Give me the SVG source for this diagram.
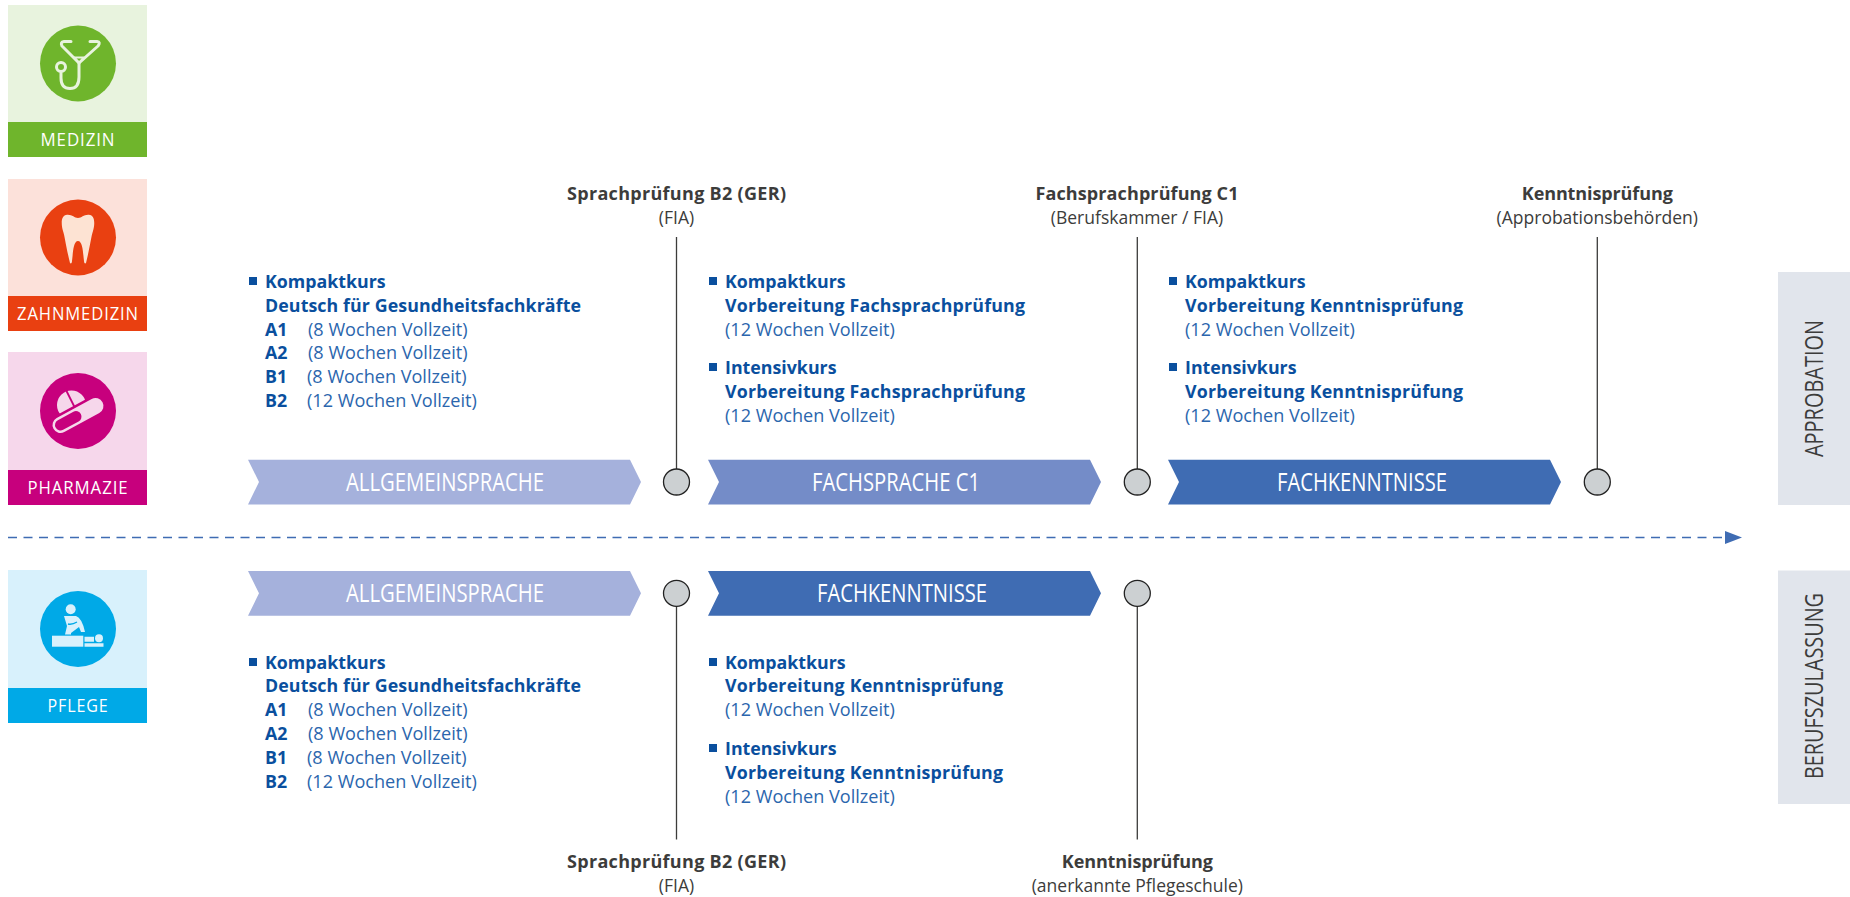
<svg xmlns="http://www.w3.org/2000/svg" width="1850" height="897" viewBox="0 0 1850 897">
<style>
text{font-family:"Open Sans","Noto Sans",sans-serif}
.t{font-size:18.6px;fill:#fff;text-anchor:middle;letter-spacing:1px}
.h{font-size:17.8px;font-weight:700;fill:#0a4f9e}
.b{font-size:18.1px;fill:#2b66ad}
.g{font-size:17.5px;fill:#3c3c3b;text-anchor:middle}
.gb{font-size:18px;font-weight:700;fill:#3c3c3b;text-anchor:middle}
.c{font-size:24.8px;fill:#fff;text-anchor:middle}
.s{font-size:25px;fill:#3c3c3b;text-anchor:middle}
.ln{stroke:#3c3c3b;stroke-width:1.3;fill:none}
.dot{fill:#ccd0d2;stroke:#222;stroke-width:1.3}
.sq{fill:#0a4f9e}
</style>
<defs>
<marker id="ah" markerUnits="userSpaceOnUse" markerWidth="18" markerHeight="14" refX="0" refY="6.5" orient="auto"><path d="M0 0L17 6.5L0 13z" fill="#3f6cb3"/></marker>
<path id="chev" d="M0 0H382L393 22.300L382 44.700H0L11 22.300z"/>
</defs>

<g id="connectors">
<path class="ln" d="M676.500 237V470M1137.300 237V470M1597.300 237V470M676.500 605V839.500M1137.300 605V839.500"/>
<path d="M8 537.500H1725" fill="none" stroke="#3f6cb3" stroke-width="1.4" stroke-dasharray="9 6.500" marker-end="url(#ah)"/>
</g>

<g id="medizin">
<rect x="8" y="5" width="139" height="117" fill="#e8f3de"/><rect x="8" y="122" width="139" height="35" fill="#6fb52c"/>
<circle cx="78" cy="63.500" r="38" fill="#6fb52c"/>
<g fill="none" stroke="#e8f3de" stroke-width="3" stroke-linecap="round" stroke-linejoin="round">
<path d="M71 41.500H64Q60 42 62 46L79 63L98 46Q101 42 97 41.500H90"/>
<path d="M74 57.500H84L79 63Z" stroke-width="2"/>
<path d="M79 63V77Q79 88.500 70 88.500Q61 88.500 61 78V73"/>
<circle cx="61" cy="67" r="4.500"/>
</g>
<text class="t" x="78" y="146" textLength="75" lengthAdjust="spacingAndGlyphs">MEDIZIN</text>
</g>

<g id="zahnmedizin">
<rect x="8" y="179" width="139" height="117" fill="#fce1da"/><rect x="8" y="296" width="139" height="35" fill="#e94011"/>
<circle cx="78" cy="237.500" r="38" fill="#e94011"/>
<path d="M66 215C72 214 74 218 78 218C82 218 84 214 90 215C95 216 95 224 93 231C91 237 90 247 86 263C85 264 84 263 84 261C83 254 83 241 78 241C73 241 73 254 72 261C72 263 71 264 70 263C66 247 65 237 63 231C61 224 61 216 66 215Z" fill="#fde3d3"/>
<text class="t" x="78" y="320" textLength="122" lengthAdjust="spacingAndGlyphs">ZAHNMEDIZIN</text>
</g>

<g id="pharmazie">
<rect x="8" y="352" width="139" height="118" fill="#f6d7eb"/><rect x="8" y="470" width="139" height="35" fill="#c7007d"/>
<circle cx="78" cy="411" r="38" fill="#c7007d"/>
<circle cx="71.500" cy="405" r="14.500" fill="#f6d7eb"/>
<path d="M65.500 389L75 408" stroke="#c7007d" stroke-width="1.800" fill="none"/>
<path d="M60.500 425L95.500 406" stroke="#c7007d" stroke-width="21" stroke-linecap="round" fill="none"/>
<path d="M60.500 425L95.500 406" stroke="#f6d7eb" stroke-width="16" stroke-linecap="round" fill="none"/>
<path d="M60.500 425L76 416.600" stroke="#c7007d" stroke-width="11" stroke-linecap="round" fill="none"/>
<text class="t" x="78" y="494" textLength="101" lengthAdjust="spacingAndGlyphs">PHARMAZIE</text>
</g>

<g id="pflege">
<rect x="8" y="570" width="139" height="118" fill="#d8f1fc"/><rect x="8" y="688" width="139" height="35" fill="#00a9e7"/>
<circle cx="78" cy="629" r="38" fill="#00a9e7"/>
<g fill="#d8f1fc">
<circle cx="70.700" cy="609.300" r="5"/>
<path d="M64 616H76Q82 618 85 632H81L79 627L71 633V634.500H65L67 626Z"/>
<rect x="52" y="635.700" width="31.300" height="11"/>
<circle cx="99" cy="638.300" r="4"/>
<path d="M84.500 636.700H94V641.700H84.500ZM84.500 643.300H103.500V646.700H84.500Z"/>
</g>
<path d="M68 624Q72 625 77 622" fill="none" stroke="#00a9e7" stroke-width="1.300"/>
<text class="t" x="78" y="711.700" textLength="61" lengthAdjust="spacingAndGlyphs">PFLEGE</text>
</g>

<g id="chevrons">
<g id="allgemein-1"><use href="#chev" x="248" y="459.700" fill="#a5b1dc"/><text class="c" x="445" y="491" textLength="198" lengthAdjust="spacingAndGlyphs">ALLGEMEINSPRACHE</text></g>
<g id="fachsprache"><use href="#chev" x="708" y="459.700" fill="#748cc8"/><text class="c" x="896" y="491" textLength="168" lengthAdjust="spacingAndGlyphs">FACHSPRACHE C1</text></g>
<g id="fachkenntnisse-1"><use href="#chev" x="1168" y="459.700" fill="#3f6cb3"/><text class="c" x="1362" y="491" textLength="170" lengthAdjust="spacingAndGlyphs">FACHKENNTNISSE</text></g>
<g id="allgemein-2"><use href="#chev" x="248" y="571" fill="#a5b1dc"/><text class="c" x="445" y="602" textLength="198" lengthAdjust="spacingAndGlyphs">ALLGEMEINSPRACHE</text></g>
<g id="fachkenntnisse-2"><use href="#chev" x="708" y="571" fill="#3f6cb3"/><text class="c" x="902" y="602" textLength="170" lengthAdjust="spacingAndGlyphs">FACHKENNTNISSE</text></g>
</g>

<g id="milestones">
<circle class="dot" cx="676.500" cy="482" r="13"/><circle class="dot" cx="1137.300" cy="482" r="13"/><circle class="dot" cx="1597.300" cy="482" r="13"/>
<circle class="dot" cx="676.500" cy="593.300" r="13"/><circle class="dot" cx="1137.300" cy="593.300" r="13"/>
</g>

<g id="pruefungen">
<text class="gb" x="676.500" y="200" textLength="219">Sprachprüfung B2 (GER)</text><text class="g" x="676.500" y="224">(FIA)</text>
<text class="gb" x="1137" y="200" textLength="203">Fachsprachprüfung C1</text><text class="g" x="1137" y="224">(Berufskammer / FIA)</text>
<text class="gb" x="1597.300" y="200" textLength="151">Kenntnisprüfung</text><text class="g" x="1597.300" y="224">(Approbationsbehörden)</text>
<text class="gb" x="676.500" y="868" textLength="219">Sprachprüfung B2 (GER)</text><text class="g" x="676.500" y="891.700">(FIA)</text>
<text class="gb" x="1137.300" y="868" textLength="151">Kenntnisprüfung</text><text class="g" x="1137.300" y="891.700">(anerkannte Pflegeschule)</text>
</g>

<g id="kurse-a1">
<rect class="sq" x="249" y="277" width="8" height="8"/>
<text class="h" x="265" y="288">Kompaktkurs</text><text class="h" x="265" y="312" textLength="316">Deutsch für Gesundheitsfachkräfte</text>
<text class="h" x="265" y="336">A1</text><text class="b" x="308" y="336">(8 Wochen Vollzeit)</text>
<text class="h" x="265" y="359">A2</text><text class="b" x="308" y="359">(8 Wochen Vollzeit)</text>
<text class="h" x="265" y="383">B1</text><text class="b" x="307" y="383">(8 Wochen Vollzeit)</text>
<text class="h" x="265" y="407">B2</text><text class="b" x="307" y="407">(12 Wochen Vollzeit)</text>
</g>
<g id="kurse-fach">
<rect class="sq" x="709" y="277" width="8" height="8"/>
<text class="h" x="725" y="288">Kompaktkurs</text><text class="h" x="725" y="312" textLength="300">Vorbereitung Fachsprachprüfung</text><text class="b" x="725" y="336">(12 Wochen Vollzeit)</text>
<rect class="sq" x="709" y="363" width="8" height="8"/>
<text class="h" x="725" y="374">Intensivkurs</text><text class="h" x="725" y="398" textLength="300">Vorbereitung Fachsprachprüfung</text><text class="b" x="725" y="422">(12 Wochen Vollzeit)</text>
</g>
<g id="kurse-kenntnis">
<rect class="sq" x="1169" y="277" width="8" height="8"/>
<text class="h" x="1185" y="288">Kompaktkurs</text><text class="h" x="1185" y="312" textLength="278">Vorbereitung Kenntnisprüfung</text><text class="b" x="1185" y="336">(12 Wochen Vollzeit)</text>
<rect class="sq" x="1169" y="363" width="8" height="8"/>
<text class="h" x="1185" y="374">Intensivkurs</text><text class="h" x="1185" y="398" textLength="278">Vorbereitung Kenntnisprüfung</text><text class="b" x="1185" y="422">(12 Wochen Vollzeit)</text>
</g>
<g id="kurse-a1-pflege">
<rect class="sq" x="249" y="658" width="8" height="8"/>
<text class="h" x="265" y="669">Kompaktkurs</text><text class="h" x="265" y="692" textLength="316">Deutsch für Gesundheitsfachkräfte</text>
<text class="h" x="265" y="716">A1</text><text class="b" x="308" y="716">(8 Wochen Vollzeit)</text>
<text class="h" x="265" y="740">A2</text><text class="b" x="308" y="740">(8 Wochen Vollzeit)</text>
<text class="h" x="265" y="764">B1</text><text class="b" x="307" y="764">(8 Wochen Vollzeit)</text>
<text class="h" x="265" y="788">B2</text><text class="b" x="307" y="788">(12 Wochen Vollzeit)</text>
</g>
<g id="kurse-pflege">
<rect class="sq" x="709" y="658" width="8" height="8"/>
<text class="h" x="725" y="669">Kompaktkurs</text><text class="h" x="725" y="692" textLength="278">Vorbereitung Kenntnisprüfung</text><text class="b" x="725" y="716">(12 Wochen Vollzeit)</text>
<rect class="sq" x="709" y="744" width="8" height="8"/>
<text class="h" x="725" y="755">Intensivkurs</text><text class="h" x="725" y="779" textLength="278">Vorbereitung Kenntnisprüfung</text><text class="b" x="725" y="803">(12 Wochen Vollzeit)</text>
</g>

<g id="approbation">
<rect x="1778" y="272" width="72" height="233" fill="#e1e5ec"/>
<text class="s" transform="translate(1823 388.500) rotate(-90)" textLength="137" lengthAdjust="spacingAndGlyphs">APPROBATION</text>
</g>
<g id="berufszulassung">
<rect x="1778" y="570.500" width="72" height="233.500" fill="#e1e5ec"/>
<text class="s" transform="translate(1823 686) rotate(-90)" textLength="186" lengthAdjust="spacingAndGlyphs">BERUFSZULASSUNG</text>
</g>
</svg>
